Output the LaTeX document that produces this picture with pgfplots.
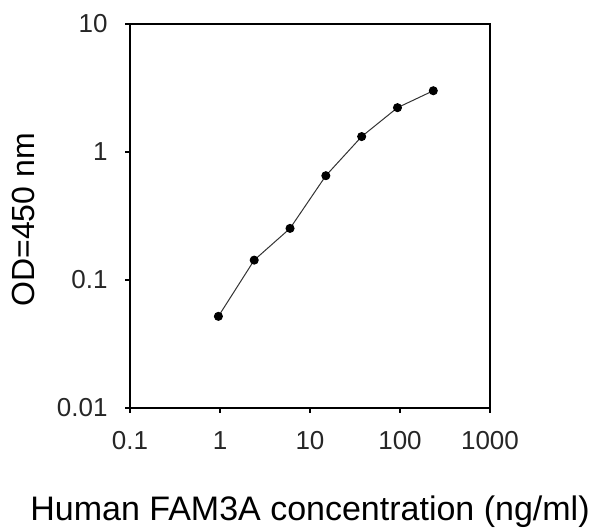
\documentclass[border=0pt]{standalone}
\usepackage{fontspec}
\setmainfont{Liberation Sans}
\usepackage{pgfplots}
\pgfplotsset{compat=1.18}

\begin{document}
\begin{tikzpicture}
    % frame of the reference picture, 1pt = 1px, axis box at the origin
    \path[use as bounding box] (-130pt,-121pt) rectangle (462pt,408pt);
    \begin{axis}[
            at={(0,0)}, anchor=south west,
            scale only axis,
            width=360pt,
            height=384pt,
            xmode=log, ymode=log,
            xmin=0.1, xmax=1000,
            ymin=0.01, ymax=10,
            xtick={0.1,1,10,100,1000},
            xticklabels={0.1,1,10,100,1000},
            ytick={0.01,0.1,1,10},
            yticklabels={0.01,0.1,1,10},
            xminorticks=false, yminorticks=false,
            tick align=outside,
            tick pos=left,
            major tick length=5pt,
            axis line style={line width=1.3pt},
            tick style={line width=1.3pt, black},
            ticklabel style={font=\fontsize{26}{30}\selectfont, text=black!85},
            xticklabel style={yshift=-15pt},
            yticklabel style={xshift=-14pt},
            xlabel={Human FAM3A concentration (ng/ml)},
            ylabel={OD=450 nm},
            xlabel style={font=\fontsize{34}{40}\selectfont,
                          at={(axis description cs:0.5,-0.2917)}, anchor=base},
            ylabel style={font=\fontsize{32}{38}\selectfont,
                          at={(axis description cs:-0.264,0.49)}, anchor=base},
        ]
        \addplot[black!80, line width=1pt, mark=*, mark size=4pt,
                 mark options={fill=black, draw=black}]
            coordinates {(0.96,0.052) (2.4,0.143) (6,0.253) (15,0.653)
                         (37.5,1.32) (93.75,2.22) (234.4,3.01)};
    \end{axis}
\end{tikzpicture}
\end{document}
